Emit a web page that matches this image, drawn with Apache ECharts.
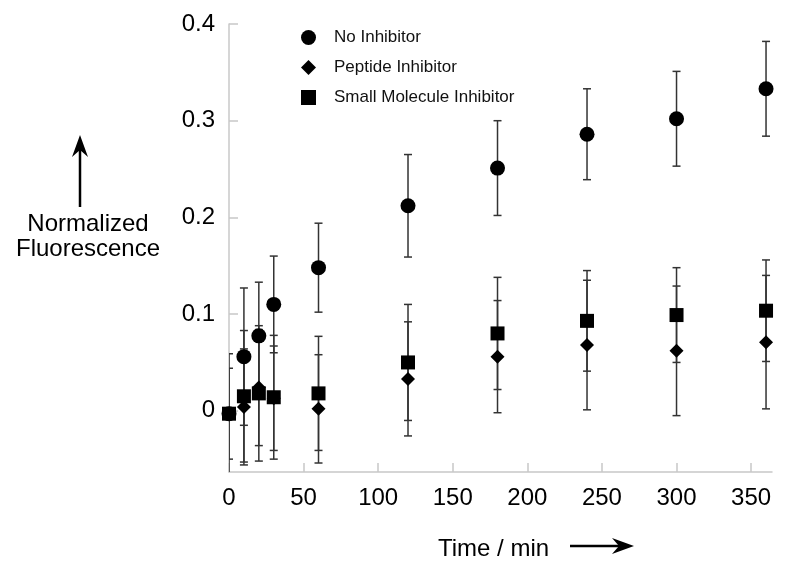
<!DOCTYPE html>
<html>
<head>
<meta charset="utf-8">
<script src="https://cdn.jsdelivr.net/npm/echarts@6/dist/echarts.min.js"></script>
<style>html,body{margin:0;padding:0;background:#fff}#c{width:800px;height:566px}</style>
</head>
<body>
<div id="c"></div>
<script>
const times = [0, 10, 20, 30, 60, 120, 180, 240, 300, 360];
const noInhibitor    = [-0.003, 0.056, 0.0775, 0.110, 0.148, 0.212, 0.251, 0.286, 0.302, 0.333];
const noInhibitorErr = [0, 0.071, 0.0555, 0.050, 0.046, 0.053, 0.049, 0.047, 0.049, 0.049];
const peptide        = [-0.003, 0.004, 0.024, 0.013, 0.002, 0.033, 0.056, 0.068, 0.062, 0.071];
const peptideErr     = [0.047, 0.060, 0.060, 0.054, 0.056, 0.059, 0.058, 0.067, 0.067, 0.069];
const smallMol       = [-0.003, 0.015, 0.018, 0.014, 0.018, 0.050, 0.080, 0.093, 0.099, 0.1035];
const smallMolErr    = [0.062, 0.068, 0.070, 0.064, 0.059, 0.060, 0.058, 0.052, 0.049, 0.0525];
const xTicks = [0, 50, 100, 150, 200, 250, 300, 350];
const yTicks = [0, 0.1, 0.2, 0.3, 0.4];
const names = ['No Inhibitor', 'Peptide Inhibitor', 'Small Molecule Inhibitor'];
const yTitle = 'Normalized\nFluorescence';
const xTitle = 'Time / min';

const FONT = '"Liberation Sans", Arial, sans-serif';
function pts(v) { return times.map((t, i) => [t, v[i]]); }
function errPts(v, e) { return times.map((t, i) => [t, v[i], e[i]]); }

function errRender(params, api) {
  const x = api.value(0), y = api.value(1), e = api.value(2);
  if (!e) return null;
  const top = api.coord([x, y + e]);
  const bot = api.coord([x, y - e]);
  const hw = 4;
  const st = { stroke: '#333', lineWidth: 1.5 };
  return {
    type: 'group',
    children: [
      { type: 'line', shape: { x1: top[0], y1: top[1], x2: bot[0], y2: bot[1] }, style: st },
      { type: 'line', shape: { x1: top[0] - hw, y1: top[1], x2: top[0] + hw, y2: top[1] }, style: st },
      { type: 'line', shape: { x1: bot[0] - hw, y1: bot[1], x2: bot[0] + hw, y2: bot[1] }, style: st }
    ]
  };
}
function errSeries(v, e) {
  return { type: 'custom', renderItem: errRender, data: errPts(v, e), clip: true, z: 2, silent: true,
           encode: { x: 0, y: 1 } };
}

const chart = echarts.init(document.getElementById('c'));
chart.setOption({
  animation: false,
  backgroundColor: '#fff',
  grid: { left: 229, right: 28, top: 24, bottom: 86 },
  legend: {
    data: names,
    orient: 'vertical',
    left: 296, top: 24,
    itemWidth: 15, itemHeight: 15, itemGap: 13,
    textStyle: { fontFamily: FONT, fontSize: 17, color: '#111', padding: [0, 0, 0, 13] }
  },
  xAxis: {
    type: 'value', min: 0, max: 364,
    name: xTitle, nameLocation: 'middle', nameGap: 65,
    nameTextStyle: { fontFamily: FONT, fontSize: 24, color: '#000', padding: [0, 14, 0, 0] },
    axisLine: { onZero: false, lineStyle: { color: '#c8c8c8', width: 1.5 } },
    axisTick: { inside: true, length: 9, lineStyle: { color: '#c8c8c8', width: 1.5 }, customValues: xTicks },
    axisLabel: { fontFamily: FONT, fontSize: 24, color: '#000', margin: 14, customValues: xTicks },
    splitLine: { show: false }
  },
  yAxis: {
    type: 'value', min: -0.0633, max: 0.4,
    axisLine: { show: true, onZero: false, lineStyle: { color: '#c8c8c8', width: 1.5 } },
    axisTick: { show: true, inside: true, length: 9, lineStyle: { color: '#c8c8c8', width: 1.5 }, customValues: yTicks },
    axisLabel: { fontFamily: FONT, fontSize: 24, color: '#000', margin: 14, customValues: yTicks,
                 formatter: v => (Math.abs(v) < 1e-9 ? '0' : v.toFixed(1)) },
    splitLine: { show: false }
  },
  graphic: [
    { type: 'text', x: 88, y: 237,
      style: { text: yTitle, font: '24px ' + FONT, fill: '#000', align: 'center', verticalAlign: 'middle', lineHeight: 25 } },
    { type: 'line', shape: { x1: 80, y1: 207, x2: 80, y2: 148 }, style: { stroke: '#000', lineWidth: 2.5 } },
    { type: 'polygon', shape: { points: [[80, 135], [88, 157], [80, 150], [72, 157]] }, style: { fill: '#000' } },
    { type: 'line', shape: { x1: 570, y1: 546, x2: 622, y2: 546 }, style: { stroke: '#000', lineWidth: 2.5 } },
    { type: 'polygon', shape: { points: [[634, 546], [612, 554], [619, 546], [612, 538]] }, style: { fill: '#000' } }
  ],
  series: [
    errSeries(noInhibitor, noInhibitorErr),
    errSeries(peptide, peptideErr),
    errSeries(smallMol, smallMolErr),
    { name: names[0], type: 'scatter', data: pts(noInhibitor), symbol: 'circle', symbolSize: 15, z: 3,
      itemStyle: { color: '#000', opacity: 1 } },
    { name: names[1], type: 'scatter', data: pts(peptide), symbol: 'diamond', symbolSize: 14, z: 3,
      itemStyle: { color: '#000', opacity: 1 } },
    { name: names[2], type: 'scatter', data: pts(smallMol), symbol: 'rect', symbolSize: 14, z: 3,
      itemStyle: { color: '#000', opacity: 1 } }
  ]
});
</script>
</body>
</html>
